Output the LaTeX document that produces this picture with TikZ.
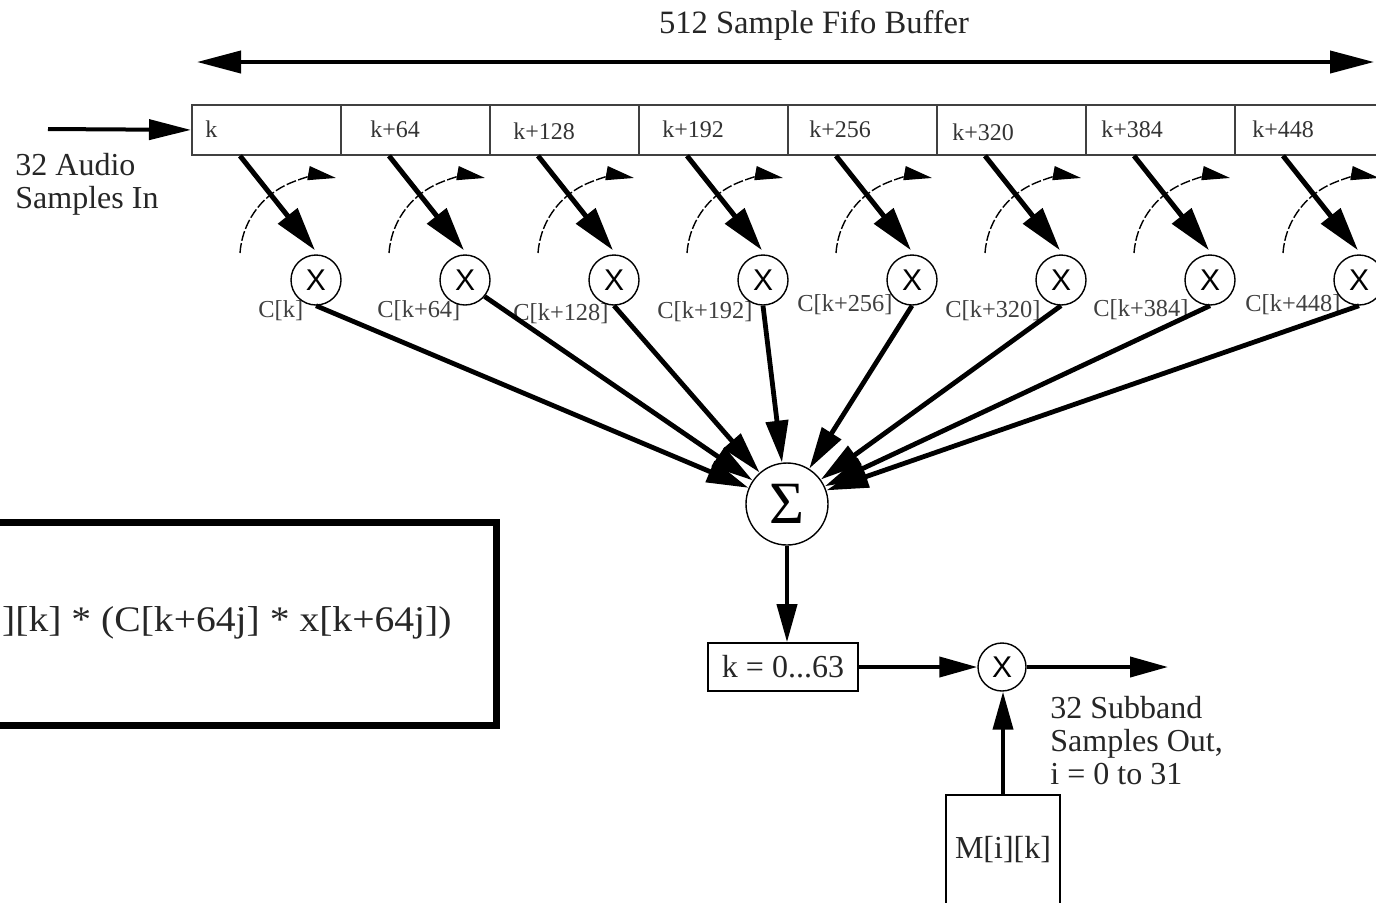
\documentclass[tikz,border=0pt]{standalone}
\usepackage{fontspec}
\usepackage{graphicx}
\setmainfont{Liberation Serif}
\newfontfamily\sansx{Liberation Sans}
\usetikzlibrary{arrows.meta}
\begin{document}
\begin{tikzpicture}[x=0.5pt,y=-0.5pt,
  cellbox/.style={draw=black!75,line width=0.9pt,minimum width=74.5pt,minimum height=25pt,inner sep=0pt,anchor=north west},
  mulnode/.style={circle,draw,fill=white,line width=0.7pt,minimum size=25pt,inner sep=0pt,font=\sansx\fontsize{15}{15}\selectfont},
  celltxt/.style={anchor=base west,inner sep=0pt,font=\fontsize{12}{14}\selectfont,text=black!80},
  ctxt/.style={anchor=base west,inner sep=0pt,font=\fontsize{12.2}{14}\selectfont,text=black!75},
  bigtxt/.style={inner sep=0pt,font=\fontsize{16}{16.5}\selectfont,text=black!85},
  fatarrow/.style={line width=2.5pt,-{Triangle[length=22pt,width=12pt]}},
  sumarrow/.style={line width=2.4pt,-{Triangle[length=21pt,width=11pt]}},
  rotarrow/.style={line width=0.7pt,dash pattern=on 5pt off 1.2pt,-{Triangle[length=14pt,width=7pt]}},
  medarrow/.style={line width=2pt,-{Triangle[length=19pt,width=10pt]}},
]
\useasboundingbox (0,0) rectangle (1376,902);
\clip (0,0) rectangle (1376,902);

% title and buffer extent arrow
\node[bigtxt,anchor=base,font=\fontsize{16.3}{17}\selectfont] (title) at (814,33) {512 Sample Fifo Buffer};
\coordinate (bl) at (197,62);
\coordinate (br) at (1374,62);
\draw[line width=2pt,{Triangle[length=22pt,width=11pt]}-{Triangle[length=22pt,width=11pt]}] (bl) -- (br);

% buffer cells
\foreach \i in {1,...,8} \node[cellbox] (c\i) at ({191+149*(\i-1)},104) {};
\foreach \t/\x/\y [count=\i] in {k/205/137, k+64/370/137, k+128/513/139, k+192/662/137, k+256/809/137, k+320/952/140, k+384/1101/137, k+448/1252/137}
  \node[celltxt] (l\i) at (\x,\y) {\t};

% input
\coordinate (in) at (48,129);
\draw[line width=2pt,-{Triangle[length=21pt,width=10pt]}] (in) -- (c1.west);
\node[bigtxt,anchor=north west,align=left] (intxt) at (15,153) {32 Audio\\Samples In};

% coefficient labels
\foreach \t/\x/\y [count=\i] in {C[k]/258/317, C[k+64]/377/317, C[k+128]/513/320, C[k+192]/657/318, C[k+256]/797/311, C[k+320]/945/317, C[k+384]/1093/316, C[k+448]/1245/311}
  \node[ctxt] (cl\i) at (\x,\y) {\t};

% dashed rotation arcs
\foreach \i in {1,...,8}
  \draw[rotarrow] ({240+149*(\i-1)},253) arc[start angle=176,end angle=80,radius=41pt];

% summing node
\node[circle,draw,fill=white,line width=0.7pt,minimum size=41pt,inner sep=0pt,font=\fontsize{30}{30}\selectfont] (S) at (787,504) {Σ};

% multipliers
\foreach \i in {1,...,8} \node[mulnode] (m\i) at ({316+149*(\i-1)},280) {X};

% converging arrows
\draw[sumarrow] (m1.south) -- (S);
\draw[sumarrow] (m2.-40) -- (S);
\foreach \i in {3,...,8} \draw[sumarrow] (m\i.south) -- (S);

% taps from buffer into multipliers
\foreach \i in {1,...,8}
  \draw[fatarrow] ([xshift=24.5pt]c\i.south west) -- ([xshift=-0.5pt,yshift=2pt]m\i.north);

% output stage
\node[draw,line width=0.8pt,minimum width=75pt,minimum height=24pt,bigtxt] (kb) at (783,667) {k = 0...63};
\draw[medarrow] (S.south) -- (S.south |- kb.north);
\node[mulnode,minimum size=24pt] (mx) at (1002,667) {X};
\draw[medarrow] (kb.east) -- (mx);
\coordinate (out) at (1168,667);
\draw[medarrow] (mx) -- (out);
\node[draw,line width=0.8pt,minimum width=57pt,minimum height=55pt,bigtxt] (mb) at (1003,850) {M[i][k]};
\draw[medarrow] (mb.north) -- (mb.north |- mx.south);
\node[bigtxt,anchor=north west,align=left] (sub) at (1050,696) {32 Subband\\Samples Out,\\i = 0 to 31};

% formula box
\node[draw,line width=3.5pt,minimum width=258pt,minimum height=101.5pt,inner sep=0pt] (fb) at (238,623.5) {};
\node[bigtxt,anchor=base east,font=\fontsize{18}{18}\selectfont] (ft) at (452,631) {\scalebox{1.1}[1]{][k] * (C[k+64j] * x[k+64j])}};
\end{tikzpicture}
\end{document}
